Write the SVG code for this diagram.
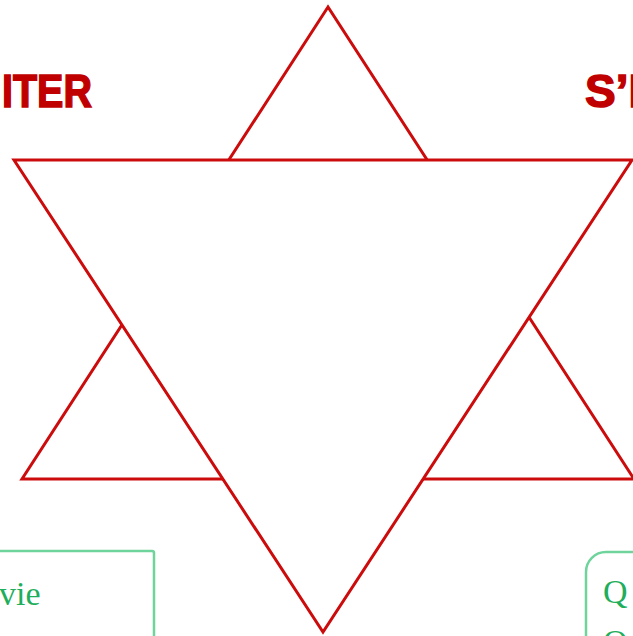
<svg xmlns="http://www.w3.org/2000/svg" width="633" height="636" viewBox="0 0 633 636">
<style>
.tri{fill:none;stroke:#cc0c0c;stroke-width:3;stroke-linejoin:miter}
.title{font-family:"Liberation Sans",Arial,sans-serif;font-weight:bold;font-size:46px;fill:#c00000;stroke:#c00000;stroke-width:1.5}
.box{fill:#fff;stroke:#6fd49b;stroke-width:2.5}
.btxt{font-family:"Liberation Serif","Times New Roman",serif;font-size:34px;fill:#1fae5c}
</style>
<rect width="633" height="636" fill="#fff"/>
<g id="star">
<polygon class="tri" points="328,7 22,479 634,479"/>
<polygon class="tri" points="14,160 632,160 323,632" style="fill:#fff"/>
</g>
<g id="title-left"><text class="title" x="92" y="107" text-anchor="end" textLength="90" lengthAdjust="spacingAndGlyphs">ITER</text></g>
<g id="title-right"><text class="title" x="585" y="107">S’I</text></g>
<g id="box-left">
<rect class="box" x="-20" y="551" width="174" height="120" rx="2"/>
<text class="btxt" x="-1" y="605">vie</text>
</g>
<g id="box-right">
<rect class="box" x="586" y="552" width="80" height="120" rx="20"/>
<text class="btxt" x="603" y="603">Q</text>
<text class="btxt" x="603" y="653">Q</text>
</g>
<g id="connectors"></g>
</svg>
